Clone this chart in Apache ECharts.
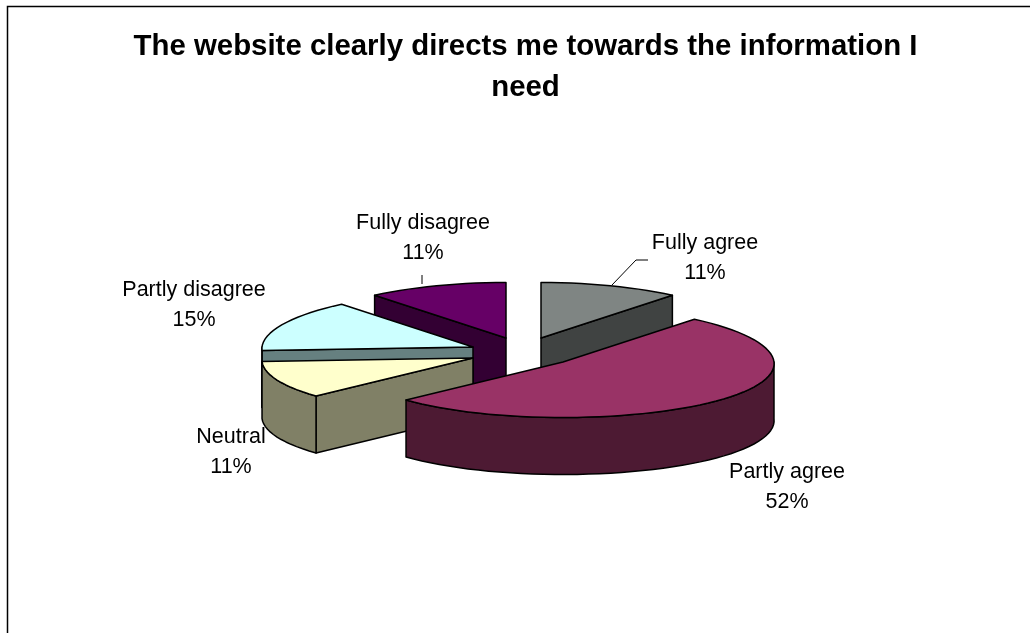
<!DOCTYPE html>
<html>
<head>
<meta charset="utf-8">
<style>html,body{margin:0;padding:0;background:#fff}#c{width:1030px;height:633px}</style>
<script src="https://cdn.jsdelivr.net/npm/echarts@6/dist/echarts.min.js"></script>
</head>
<body>
<div id="c"></div>
<script>
const titleText = 'The website clearly directs me towards the information I\nneed';
const categories = ['Fully agree', 'Partly agree', 'Neutral', 'Partly disagree', 'Fully disagree'];
const shares = [11, 52, 11, 15, 11];
const topColors = ['#7f8583', '#993366', '#ffffcc', '#ccffff', '#660066'];
const wallColors = ['#404342', '#4d1a33', '#808066', '#668080', '#330033'];

// Exploded hub position of each slice, paint order, and label placement.
const hubX = [541, 563, 473, 473, 506];
const hubY = [338, 362, 358, 347, 338];
const paintOrder = [1, 4, 3, 2, 0];
const labelX = [705, 787, 231, 194, 423];
const labelY = [258, 487, 452, 305, 238];
const leaders = [[[612, 285], [636, 260], [648, 260]], null, null, null, [[422, 284], [422, 275]]];

const RX = 211, RY = 55.5, DEPTH = 57, PERSPECTIVE = 0.03, STEP = 3;
const total = shares.reduce((a, b) => a + b, 0);
const rad = d => d * Math.PI / 180;

// Angles run clockwise from twelve o'clock; the far rim is drawn slightly narrower.
function rim(cx, cy, deg) {
  const t = rad(deg);
  return [cx + RX * (1 - PERSPECTIVE * Math.cos(t)) * Math.sin(t), cy - RY * Math.cos(t)];
}
function arc(cx, cy, from, to) {
  const pts = [];
  const n = Math.max(1, Math.ceil(Math.abs(to - from) / STEP));
  for (let i = 0; i <= n; i++) pts.push(rim(cx, cy, from + (to - from) * i / n));
  return pts;
}
const down = p => [p[0], p[1] + DEPTH];
const edge = { stroke: '#000', lineWidth: 1.5, lineJoin: 'round' };

function renderSlice(params, api) {
  const i = params.dataIndex;
  const value = api.value(0);
  let start = 0;
  for (let k = 0; k < i; k++) start += shares[k] / total * 360;
  const end = start + value / total * 360;
  const cx = hubX[i], cy = hubY[i];
  const hub = [cx, cy];
  const base = paintOrder[i] * 10;
  const children = [];
  const poly = (points, fill, z) => children.push({
    type: 'polygon', z2: base + z, shape: { points },
    style: Object.assign({ fill }, edge)
  });

  // Cut faces turned towards the viewer.
  const cutFace = deg => {
    const p = rim(cx, cy, deg);
    poly([hub, p, down(p), down(hub)], wallColors[i], 1);
  };
  if (Math.cos(rad(start - 90)) < -1e-6) cutFace(start);
  if (Math.cos(rad(end + 90)) < -1e-6) cutFace(end);

  // Outer wall along the front half of the rim.
  const a = Math.max(start, 90), b = Math.min(end, 270);
  if (b > a) {
    const top = arc(cx, cy, a, b);
    poly(top.concat(top.map(down).reverse()), wallColors[i], 2);
  }

  // Top face.
  poly([hub].concat(arc(cx, cy, start, end)), topColors[i], 3);

  // Category name and share, above every slice.
  if (leaders[i]) {
    children.push({
      type: 'polyline', z2: 100, shape: { points: leaders[i] },
      style: { stroke: '#000', lineWidth: 1, fill: null }
    });
  }
  children.push({
    type: 'text', z2: 101, x: labelX[i], y: labelY[i],
    style: {
      text: categories[i] + '\n' + value + '%',
      fill: '#000', font: '21.5px "Liberation Sans", Arial, sans-serif',
      lineHeight: 30, align: 'center', verticalAlign: 'middle'
    }
  });
  return { type: 'group', children };
}

const chart = echarts.init(document.getElementById('c'), null, { renderer: 'canvas' });
chart.setOption({
  animation: false,
  backgroundColor: '#fff',
  title: {
    text: titleText, left: 520.5, top: 21, textAlign: 'center',
    textStyle: {
      fontFamily: '"Liberation Sans", Arial, sans-serif',
      fontWeight: 'bold', fontSize: 29.4, lineHeight: 41, color: '#000'
    }
  },
  graphic: [{
    type: 'polyline', silent: true,
    shape: { points: [[7.5, 633], [7.5, 6.5], [1030, 6.5]] },
    style: { stroke: '#000', lineWidth: 1.5, fill: null }
  }],
  series: [{
    type: 'custom',
    coordinateSystem: 'none',
    silent: true,
    clip: false,
    data: shares.map(v => [v]),
    renderItem: renderSlice
  }]
});
</script>
</body>
</html>
